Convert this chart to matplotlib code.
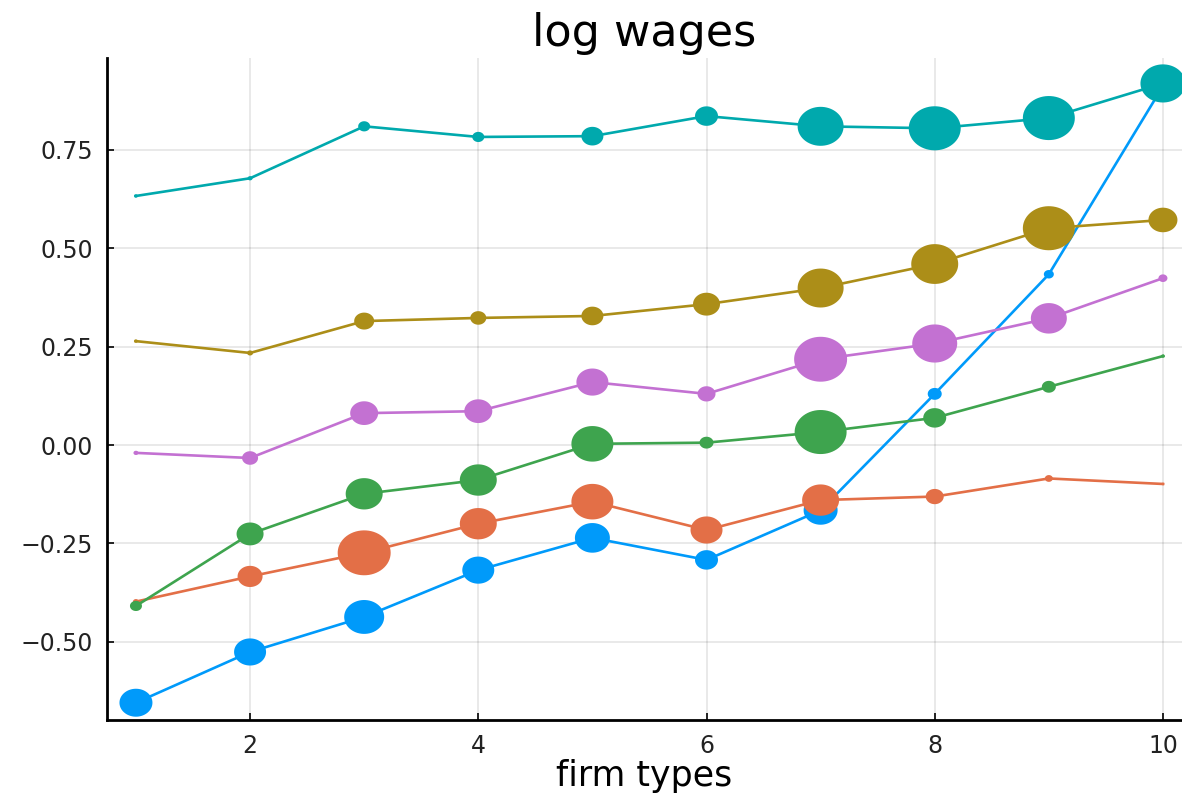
import numpy as np
import matplotlib.pyplot as plt
from matplotlib.path import Path

firm_types = [1, 2, 3, 4, 5, 6, 7, 8, 9, 10]

# mean log wage by worker type across firm types
wage_w1 = [-0.655, -0.526, -0.437, -0.318, -0.236, -0.292, -0.166, 0.130, 0.434, 0.912]
wage_w2 = [-0.398, -0.334, -0.274, -0.200, -0.144, -0.216, -0.140, -0.131, -0.085, -0.099]
wage_w3 = [-0.409, -0.226, -0.124, -0.089, 0.003, 0.006, 0.033, 0.069, 0.148, 0.226]
wage_w4 = [-0.020, -0.033, 0.081, 0.086, 0.160, 0.130, 0.218, 0.258, 0.322, 0.424]
wage_w5 = [0.264, 0.234, 0.315, 0.323, 0.328, 0.358, 0.399, 0.460, 0.551, 0.572]
wage_w6 = [0.633, 0.678, 0.810, 0.783, 0.785, 0.836, 0.810, 0.805, 0.831, 0.919]

# marker widths (employment weight of each cell)
size_w1 = [33, 32, 40, 32, 35, 23, 34, 14, 10, 8]
size_w2 = [6, 25, 53, 37, 42, 32, 37, 18, 8, 3]
size_w3 = [12, 27, 37, 37, 42, 14, 52, 23, 14, 4]
size_w4 = [5, 16, 28, 28, 32, 18, 53, 45, 36, 9]
size_w5 = [4, 6, 20, 16, 22, 27, 46, 47, 52, 29]
size_w6 = [4, 5, 12, 12, 22, 23, 46, 52, 52, 45]

palette = ["#009AFA", "#E36F47", "#3EA44E", "#C371D2", "#AC8E18", "#00A9AD"]

series = [
    (wage_w1, size_w1),
    (wage_w2, size_w2),
    (wage_w3, size_w3),
    (wage_w4, size_w4),
    (wage_w5, size_w5),
    (wage_w6, size_w6),
]

# slightly wide ellipse marker
t = np.linspace(0, 2 * np.pi, 64)
ellipse = Path(np.column_stack([1.18 * np.cos(t), np.sin(t)]), closed=True)

plt.rcParams["font.family"] = "DejaVu Sans"

fig = plt.figure(figsize=(11.82, 7.98), dpi=100)
ax = fig.add_axes([0.0905, 0.0977, 0.9095, 0.8293])

for i, (wages, sizes) in enumerate(series):
    color = palette[i]
    ax.plot(firm_types, wages, color=color, linewidth=1.9, zorder=3 + 2 * i)
    pts = np.array(sizes) * 0.72
    ax.scatter(firm_types, wages, s=pts ** 2, marker=ellipse, color=color,
               linewidths=0, zorder=4 + 2 * i)

ax.set_xlim(0.746, 10.167)
ax.set_ylim(-0.699, 0.983)
ax.set_xticks([2, 4, 6, 8, 10])
ax.set_yticks([-0.50, -0.25, 0.00, 0.25, 0.50, 0.75])
ax.set_yticklabels(["\u22120.50", "\u22120.25", "0.00", "0.25", "0.50", "0.75"])

ax.grid(True, color="black", alpha=0.1, linewidth=1.2)
ax.set_axisbelow(True)
ax.spines["top"].set_visible(False)
ax.spines["right"].set_visible(False)
ax.spines["left"].set_linewidth(2.0)
ax.spines["bottom"].set_linewidth(2.0)
ax.tick_params(direction="in", length=5, width=1.2, labelsize=17, pad=10,
               colors="black", labelcolor="#222222")

ax.set_xlabel("firm types", fontsize=25, labelpad=1)
ax.set_title("log wages", fontsize=32, pad=9)

fig.savefig("out.png", dpi=100)
